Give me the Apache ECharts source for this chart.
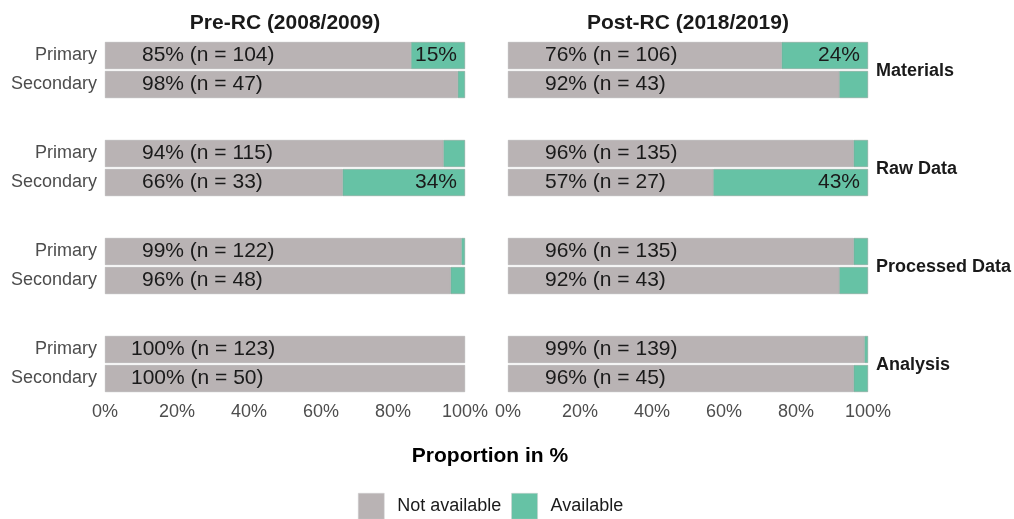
<!DOCTYPE html>
<html>
<head>
<meta charset="utf-8">
<script src="https://cdn.jsdelivr.net/npm/echarts@6/dist/echarts.min.js"></script>
<style>html,body{margin:0;padding:0;background:#fff;}#c{width:1014px;height:519px;}</style>
</head>
<body>
<div id="c"></div>
<script>
// ---- data ----
const periods = ['Pre-RC (2008/2009)', 'Post-RC (2018/2019)'];
const facets = ['Materials', 'Raw Data', 'Processed Data', 'Analysis'];
const types = ['Primary', 'Secondary'];
const xTicks = [0, 20, 40, 60, 80, 100];
// not available % [facet][type]
const preNotAvail = [[85, 98], [94, 66], [99, 96], [100, 100]];
const preAvail    = [[15, 2],  [6, 34],  [1, 4],   [0, 0]];
const preN        = [[104, 47], [115, 33], [122, 48], [123, 50]];
const postNotAvail = [[76, 92], [96, 57], [96, 92], [99, 96]];
const postAvail    = [[24, 8],  [4, 43],  [4, 8],   [1, 4]];
const postN        = [[106, 43], [135, 27], [135, 43], [139, 45]];

const FONT = "'Liberation Sans', Arial, Helvetica, sans-serif";
const GREY = '#b9b3b4';
const GREEN = '#66c2a5';
const panelLeft = [105, 508];
const panelWidth = 360;
const rowTop = [41, 139, 237, 335];
const rowH = 58;

const sets = [
  {na: preNotAvail, av: preAvail, n: preN},
  {na: postNotAvail, av: postAvail, n: postN}
];

const grids = [], xAxes = [], yAxes = [], series = [];
let gi = 0;
for (let p = 0; p < 2; p++) {
  for (let f = 0; f < facets.length; f++) {
    grids.push({left: panelLeft[p], width: panelWidth, top: rowTop[f], height: rowH, containLabel: false});
    xAxes.push({
      type: 'value', gridIndex: gi, min: xTicks[0], max: xTicks[xTicks.length - 1], interval: 20,
      axisLine: {show: false}, axisTick: {show: false}, splitLine: {show: false},
      axisLabel: {show: f === facets.length - 1, formatter: '{value}%', color: '#4d4d4d',
                  fontSize: 18, fontFamily: FONT, margin: 10}
    });
    yAxes.push({
      type: 'category', gridIndex: gi, data: types, inverse: true,
      axisLine: {show: false}, axisTick: {show: false}, splitLine: {show: false},
      axisLabel: {show: p === 0, color: '#4d4d4d', fontSize: 18, fontFamily: FONT, margin: 8}
    });
    const s = sets[p];
    const naData = types.map((t, k) => ({
      value: s.na[f][k],
      label: {distance: s.na[f][k] >= 100 ? 26 : 37},
      n: s.n[f][k]
    }));
    const avData = types.map((t, k) => ({
      value: s.av[f][k],
      itemStyle: s.av[f][k] > 0 ? {} : {borderWidth: 0, opacity: 0}
    }));
    series.push({
      name: 'Not available', type: 'bar', stack: 's' + gi, xAxisIndex: gi, yAxisIndex: gi,
      barWidth: 27, data: naData,
      itemStyle: {color: GREY, borderColor: '#a8a8a8', borderWidth: 0.5},
      label: {show: true, position: 'insideLeft', color: '#1a1a1a', fontSize: 21, fontFamily: FONT,
              formatter: (d) => d.value + '% (n = ' + d.data.n + ')'},
      emphasis: {disabled: true}, animation: false
    });
    series.push({
      name: 'Available', type: 'bar', stack: 's' + gi, xAxisIndex: gi, yAxisIndex: gi,
      barWidth: 27, data: avData,
      itemStyle: {color: GREEN, borderColor: '#8a9a94', borderWidth: 0.5},
      label: {show: true, position: 'insideRight', distance: 8, color: '#1a1a1a', fontSize: 21, fontFamily: FONT,
              formatter: (d) => d.value >= 10 ? d.value + '%' : ''},
      emphasis: {disabled: true}, animation: false
    });
    gi++;
  }
}

const graphics = [];
periods.forEach((t, p) => {
  graphics.push({type: 'text', x: panelLeft[p] + panelWidth / 2, y: 23,
    style: {text: t, font: 'bold 21px ' + FONT, fill: '#1a1a1a', textAlign: 'center', textVerticalAlign: 'middle'}});
});
facets.forEach((t, f) => {
  graphics.push({type: 'text', x: 876, y: rowTop[f] + rowH / 2 + 1,
    style: {text: t, font: 'bold 18px ' + FONT, fill: '#1a1a1a', textAlign: 'left', textVerticalAlign: 'middle'}});
});
graphics.push({type: 'text', x: 490, y: 456,
  style: {text: 'Proportion in %', font: 'bold 21px ' + FONT, fill: '#000', textAlign: 'center', textVerticalAlign: 'middle'}});

const chart = echarts.init(document.getElementById('c'), null, {renderer: 'canvas'});
chart.setOption({
  backgroundColor: '#fff',
  animation: false,
  grid: grids, xAxis: xAxes, yAxis: yAxes, series: series,
  graphic: graphics,
  legend: {
    data: ['Not available', 'Available'], left: 358, top: 493, padding: 0,
    itemWidth: 26, itemHeight: 26, itemGap: 10, icon: 'rect', selectedMode: false,
    itemStyle: {borderColor: '#cfcfcf', borderWidth: 0.5},
    textStyle: {fontSize: 18, fontFamily: FONT, color: '#1a1a1a', padding: [0, 0, 0, 8]}
  }
});
</script>
</body>
</html>
